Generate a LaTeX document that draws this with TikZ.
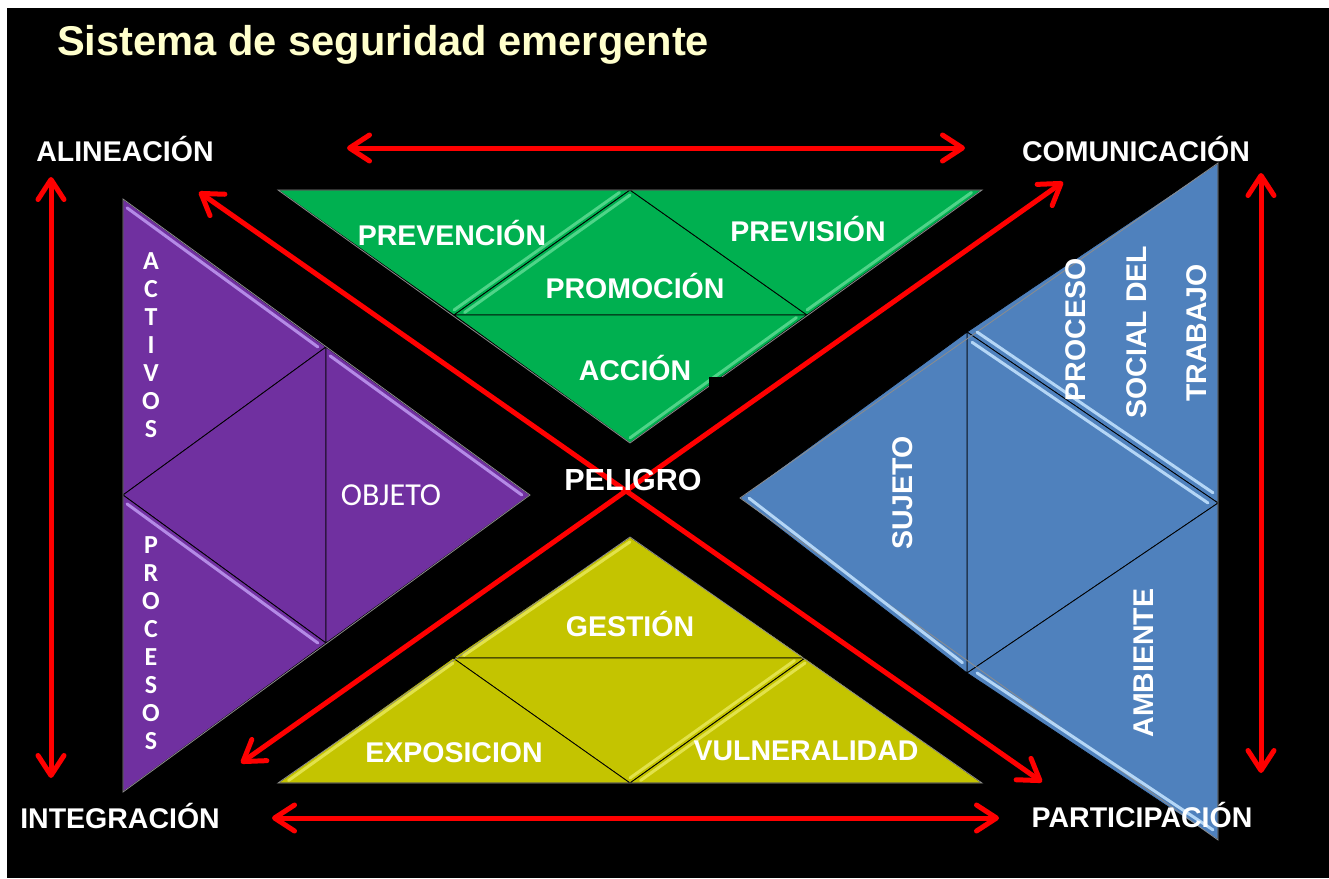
\documentclass[tikz,border=0pt]{standalone}
\usepackage{fontspec}
\setmainfont{Liberation Sans}
\newfontfamily\carlito{Carlito}
\usetikzlibrary{arrows.meta,calc}

\definecolor{gr}{HTML}{00B050}
\definecolor{grL}{HTML}{4FD488}
\definecolor{pu}{HTML}{7030A0}
\definecolor{puL}{HTML}{B48AE6}
\definecolor{bl}{HTML}{4F81BD}
\definecolor{blL}{HTML}{B4D6F6}
\definecolor{ye}{HTML}{C4C400}
\definecolor{yeL}{HTML}{E2E24A}
\definecolor{titlecol}{HTML}{FFFFCC}
\definecolor{arrowred}{HTML}{FF0000}
\definecolor{rimgray}{HTML}{8C8C8C}

\newcommand{\bevedge}[4]{\draw[bev,#4] ($(#1)!0.06!(#3)$) -- ($(#2)!0.06!(#3)$);}

\tikzset{
  tri/.style={draw=black, line width=0.8pt, line join=miter},
  rim/.style={draw=rimgray, line width=0.8pt, line join=miter},
  bev/.style={line width=3pt, line cap=round},
  redarrow/.style={draw=arrowred, line width=5pt,
    {Straight Barb[length=20pt,width=26pt,round]}-{Straight Barb[length=20pt,width=26pt,round]}},
  lab/.style={text=white, font=\bfseries\fontsize{28.5}{30}\selectfont, inner sep=0pt},
  vlet/.style={text=white, align=center, inner sep=0pt,
    font=\carlito\bfseries\fontsize{26}{28}\selectfont},
}

\begin{document}
\begin{tikzpicture}[x=1pt,y=-1pt]
\useasboundingbox (0,0) rectangle (1329,878);
\fill[white] (0,0) rectangle (1329,878);
\fill[black] (7,8) rectangle (1329,878);

% ---------- coordinates ----------
% green
\coordinate (g1) at (278,190); \coordinate (g2) at (630,190); \coordinate (g3) at (982,190);
\coordinate (g4) at (454,315); \coordinate (g5) at (807,315); \coordinate (g6) at (630,443);
% purple
\coordinate (p1) at (123,199); \coordinate (p2) at (326,347); \coordinate (p3) at (123,495);
\coordinate (p4) at (530,495); \coordinate (p5) at (326,643); \coordinate (p6) at (123,792);
% blue
\coordinate (b1) at (1218,163); \coordinate (b2) at (967,332); \coordinate (b3) at (1218,503);
\coordinate (b4) at (740,498); \coordinate (b5) at (967,673); \coordinate (b6) at (1218,840);
% yellow
\coordinate (y1) at (630,537); \coordinate (y2) at (453,658); \coordinate (y3) at (805,658);
\coordinate (y4) at (278,783); \coordinate (y5) at (630,783); \coordinate (y6) at (982,783);

% centroids
\coordinate (gcA) at (barycentric cs:g1=1,g2=1,g4=1);
\coordinate (gcB) at (barycentric cs:g2=1,g4=1,g5=1);
\coordinate (gcC) at (barycentric cs:g2=1,g3=1,g5=1);
\coordinate (gcD) at (barycentric cs:g4=1,g5=1,g6=1);
\coordinate (pcA) at (barycentric cs:p1=1,p2=1,p3=1);
\coordinate (pcB) at (barycentric cs:p3=1,p2=1,p5=1);
\coordinate (pcC) at (barycentric cs:p2=1,p4=1,p5=1);
\coordinate (pcD) at (barycentric cs:p3=1,p5=1,p6=1);
\coordinate (bcA) at (barycentric cs:b1=1,b2=1,b3=1);
\coordinate (bcB) at (barycentric cs:b2=1,b3=1,b5=1);
\coordinate (bcC) at (barycentric cs:b2=1,b4=1,b5=1);
\coordinate (bcD) at (barycentric cs:b3=1,b5=1,b6=1);
\coordinate (ycA) at (barycentric cs:y1=1,y2=1,y3=1);
\coordinate (ycB) at (barycentric cs:y2=1,y3=1,y5=1);
\coordinate (ycC) at (barycentric cs:y4=1,y2=1,y5=1);
\coordinate (ycD) at (barycentric cs:y5=1,y3=1,y6=1);

% ---------- green ----------
\filldraw[tri,fill=gr] (g1) -- (g2) -- (g4) -- cycle;
\filldraw[tri,fill=gr] (g2) -- (g4) -- (g5) -- cycle;
\filldraw[tri,fill=gr] (g2) -- (g3) -- (g5) -- cycle;
\filldraw[tri,fill=gr] (g4) -- (g5) -- (g6) -- cycle;
\draw[rim] (g1) -- (g3) -- (g6) -- cycle;
\bevedge{g2}{g4}{gcA}{grL}
\bevedge{g2}{g4}{gcB}{grL}
\bevedge{g3}{g5}{gcC}{grL}
\bevedge{g5}{g6}{gcD}{grL}
\fill[black] (709,377) rectangle (724,394);

% ---------- purple ----------
\filldraw[tri,fill=pu] (p1) -- (p2) -- (p3) -- cycle;
\filldraw[tri,fill=pu] (p3) -- (p2) -- (p5) -- cycle;
\filldraw[tri,fill=pu] (p2) -- (p4) -- (p5) -- cycle;
\filldraw[tri,fill=pu] (p3) -- (p5) -- (p6) -- cycle;
\draw[rim] (p1) -- (p4) -- (p6) -- cycle;
\bevedge{p1}{p2}{pcA}{puL}
\bevedge{p2}{p4}{pcC}{puL}
\bevedge{p3}{p5}{pcD}{puL}

% ---------- blue ----------
\filldraw[tri,fill=bl] (b1) -- (b2) -- (b3) -- cycle;
\filldraw[tri,fill=bl] (b2) -- (b3) -- (b5) -- cycle;
\filldraw[tri,fill=bl] (b2) -- (b4) -- (b5) -- cycle;
\filldraw[tri,fill=bl] (b3) -- (b5) -- (b6) -- cycle;
\draw[rim] (b1) -- (b4) -- (b6) -- cycle;
\bevedge{b2}{b3}{bcA}{blL}
\bevedge{b2}{b3}{bcB}{blL}
\bevedge{b4}{b5}{bcC}{blL}
\bevedge{b5}{b6}{bcD}{blL}

% ---------- yellow ----------
\filldraw[tri,fill=ye] (y1) -- (y2) -- (y3) -- cycle;
\filldraw[tri,fill=ye] (y2) -- (y3) -- (y5) -- cycle;
\filldraw[tri,fill=ye] (y4) -- (y2) -- (y5) -- cycle;
\filldraw[tri,fill=ye] (y5) -- (y3) -- (y6) -- cycle;
\draw[rim] (y1) -- (y4) -- (y6) -- cycle;
\bevedge{y1}{y2}{ycA}{yeL}
\bevedge{y3}{y5}{ycB}{yeL}
\bevedge{y4}{y2}{ycC}{yeL}
\bevedge{y5}{y3}{ycD}{yeL}

% ---------- red arrows ----------
\coordinate (aT1) at (347,148);  \coordinate (aT2) at (965,148);
\coordinate (aB1) at (272,818);  \coordinate (aB2) at (999,818);
\coordinate (aL1) at (51,177);   \coordinate (aL2) at (51,778);
\coordinate (aR1) at (1261,173); \coordinate (aR2) at (1261,773);
\coordinate (aD1) at (199,192);  \coordinate (aD2) at (1042,782);
\coordinate (aE1) at (1063,182); \coordinate (aE2) at (241,763);
\draw[redarrow] (aT1) -- (aT2);
\draw[redarrow] (aB1) -- (aB2);
\draw[redarrow] (aL1) -- (aL2);
\draw[redarrow] (aR1) -- (aR2);
\draw[redarrow] (aD1) -- (aD2);
\draw[redarrow] (aE1) -- (aE2);

% ---------- texts ----------
\node[anchor=base west, text=titlecol, inner sep=0pt,
      font=\bfseries\fontsize{41.6}{44}\selectfont] (title) at (57,55) {Sistema de seguridad emergente};

\node[lab,anchor=base] (alin) at (125,161) {ALINEACIÓN};
\node[lab,anchor=base] (comu) at (1136,161) {COMUNICACIÓN};
\node[lab,anchor=base] (integ) at (120,828) {INTEGRACIÓN};
\node[lab,anchor=base] (parti) at (1142,827) {PARTICIPACIÓN};

\node[lab,anchor=base] (preven) at (452,245) {PREVENCIÓN};
\node[lab,anchor=base] (previs) at (808,241) {PREVISIÓN};
\node[lab,anchor=base] (promo) at (635,298) {PROMOCIÓN};
\node[lab,anchor=base] (accion) at (635,380) {ACCIÓN};

\node[lab,anchor=base,font=\bfseries\fontsize{30.5}{32}\selectfont] (peligro) at (633,490) {PELIGRO};

\node[lab,anchor=base] (gestion) at (630,636) {GESTIÓN};
\node[lab,anchor=base] (expo) at (454,762) {EXPOSICION};
\node[lab,anchor=base] (vulne) at (806,760) {VULNERALIDAD};

\node[lab,rotate=90] (sujeto) at (903,493) {SUJETO};
\node[lab,rotate=90] (proceso) at (1076,330) {PROCESO};
\node[lab,rotate=90] (social) at (1137,332) {SOCIAL DEL};
\node[lab,rotate=90] (trabajo) at (1197,333) {TRABAJO};
\node[lab,rotate=90] (ambiente) at (1144,663) {AMBIENTE};

\node[anchor=base, text=white, inner sep=0pt, font=\carlito\fontsize{32}{34}\selectfont] (objeto) at (391,505) {OBJETO};
\node[vlet] (activos) at (151,345.5) {A\\C\\T\\I\\V\\O\\S};
\node[vlet] (procesos) at (151,643.5) {P\\R\\O\\C\\E\\S\\O\\S};
\end{tikzpicture}
\end{document}
